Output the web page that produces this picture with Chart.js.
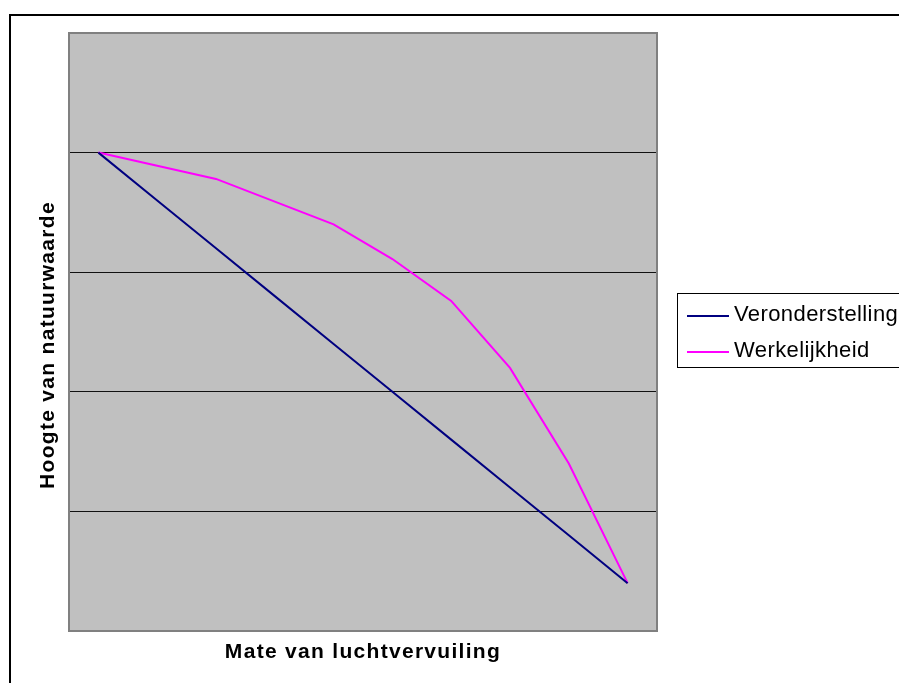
<!DOCTYPE html>
<html>
<head>
<meta charset="utf-8">
<script src="https://cdn.jsdelivr.net/npm/chart.js@4/dist/chart.umd.min.js"></script>
<style>
    html, body { margin: 0; padding: 0; background: #fff; }
    canvas { display: block; }
</style>
</head>
<body>
<canvas id="chart" width="899" height="683"></canvas>
<script>
// Data
const categories = ["1", "2", "3", "4", "5", "6", "7", "8", "9", "10"];
const veronderstelling = [4.0, 3.6, 3.2, 2.8, 2.4, 2.0, 1.6, 1.2, 0.8, 0.4];
const werkelijkheid = [4.0, 3.89, 3.78, 3.59, 3.4, 3.11, 2.76, 2.2, 1.4, 0.4];
const yTicks = [0, 1, 2, 3, 4, 5];
const xTitle = "Mate van luchtvervuiling";
const yTitle = "Hoogte van natuurwaarde";

const FONT = "'Liberation Sans', Arial, sans-serif";

// Excel-style frame, plot background, titles and legend
const excelFrame = {
    id: "excelFrame",
    beforeDraw(chart) {
        const { ctx, chartArea: a } = chart;
        ctx.save();
        ctx.fillStyle = "#c0c0c0";
        ctx.fillRect(a.left, a.top, a.right - a.left, a.bottom - a.top);
        ctx.restore();
    },
    afterDraw(chart) {
        const { ctx, chartArea: a } = chart;
        ctx.save();

        // outer chart border (left + top)
        ctx.strokeStyle = "#000";
        ctx.lineWidth = 2;
        ctx.beginPath();
        ctx.moveTo(10, 690);
        ctx.lineTo(10, 15);
        ctx.lineTo(905, 15);
        ctx.stroke();

        // plot area border
        ctx.strokeStyle = "#808080";
        ctx.lineWidth = 2;
        ctx.strokeRect(a.left, a.top, a.right - a.left, a.bottom - a.top);

        // axis titles
        ctx.fillStyle = "#000";
        ctx.font = "bold 21px " + FONT;
        ctx.letterSpacing = "1.3px";
        ctx.textAlign = "center";
        ctx.textBaseline = "alphabetic";
        ctx.fillText(xTitle, (a.left + a.right) / 2, 658);

        ctx.save();
        ctx.translate(54, 345);
        ctx.rotate(-Math.PI / 2);
        ctx.fillText(yTitle, 0, 0);
        ctx.restore();

        // legend
        ctx.strokeStyle = "#000";
        ctx.lineWidth = 1;
        ctx.strokeRect(677.5, 293.5, 240, 74);
        ctx.font = "22px " + FONT;
        ctx.letterSpacing = "0.4px";
        ctx.textAlign = "left";
        const rows = [316, 352];
        chart.data.datasets.forEach((ds, i) => {
            ctx.strokeStyle = ds.borderColor;
            ctx.lineWidth = 2;
            ctx.beginPath();
            ctx.moveTo(687, rows[i]);
            ctx.lineTo(729, rows[i]);
            ctx.stroke();
            ctx.fillStyle = "#000";
            ctx.fillText(ds.label, 734, rows[i] + 5);
        });

        ctx.restore();
    },
};

new Chart(document.getElementById("chart"), {
    type: "line",
    data: {
        labels: categories,
        datasets: [
            {
                label: "Veronderstelling",
                data: veronderstelling,
                borderColor: "#000080",
                borderWidth: 2,
                pointRadius: 0,
                tension: 0,
            },
            {
                label: "Werkelijkheid",
                data: werkelijkheid,
                borderColor: "#ff00ff",
                borderWidth: 2,
                pointRadius: 0,
                tension: 0,
            },
        ],
    },
    options: {
        responsive: false,
        animation: false,
        events: [],
        layout: {
            padding: { left: 69, top: 33, right: 242, bottom: 52 },
        },
        plugins: {
            legend: { display: false },
            tooltip: { enabled: false },
        },
        scales: {
            x: {
                type: "category",
                offset: true,
                grid: { display: false },
                border: { display: false },
                ticks: { display: false },
                afterFit: (s) => { s.height = 0; },
            },
            y: {
                min: yTicks[0],
                max: yTicks[yTicks.length - 1],
                afterBuildTicks: (s) => { s.ticks = yTicks.map((v) => ({ value: v })); },
                grid: {
                    drawTicks: false,
                    color: (c) => (c.tick.value === 0 || c.tick.value === 5 ? "rgba(0,0,0,0)" : "#111"),
                    lineWidth: 1,
                },
                border: { display: false },
                ticks: { display: false },
                afterFit: (s) => { s.width = 0; },
            },
        },
    },
    plugins: [excelFrame],
});
</script>
</body>
</html>
